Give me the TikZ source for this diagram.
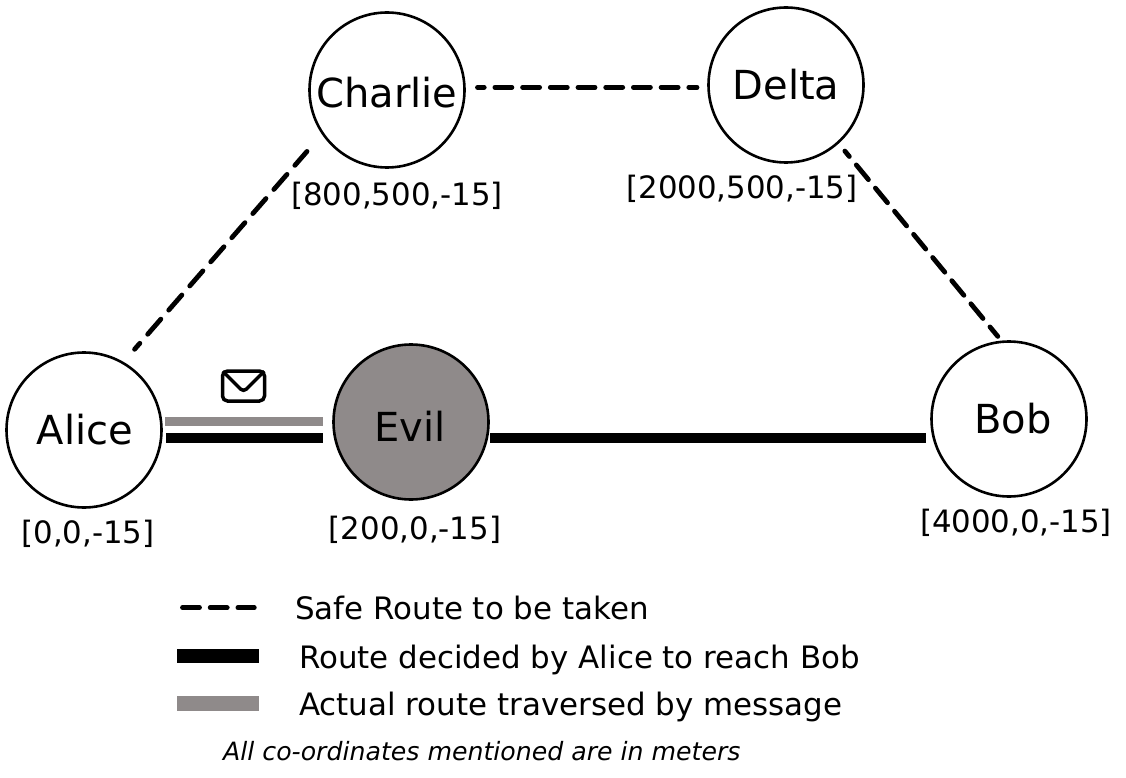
\documentclass[tikz,border=0pt]{standalone}
\usepackage{fontspec}
\usetikzlibrary{calc}
\setmainfont{DejaVu Sans}
\definecolor{evilgray}{HTML}{8F8A8A}
\tikzset{
  station/.style={circle, draw=black, line width=2.6, minimum size=155, inner sep=0, outer sep=0},
  stationname/.style={inner sep=0, font=\fontsize{40}{40}\selectfont},
  coord/.style={inner sep=0, font=\fontsize{30.8}{32}\selectfont},
  legendtext/.style={anchor=west, inner sep=0, font=\fontsize{30.9}{32}\selectfont},
  saferoute/.style={black, line width=4.8, dash pattern=on 17 off 10.700, line cap=round},
  decidedroute/.style={black, line width=10.5},
  actualroute/.style={evilgray, line width=9},
}
\begin{document}
\begin{tikzpicture}[x=1pt, y=-1pt]
\useasboundingbox (0,0) rectangle (1126,778);
% stations
\node[station, label={[stationname, xshift=1]center:Alice}] (alice) at (84,430) {};
\node[station, label={[stationname, yshift=-3]center:Charlie}] (charlie) at (387,90) {};
\node[station, label={[stationname]center:Delta}] (delta) at (786,85) {};
\node[station, fill=evilgray, label={[stationname, xshift=-1, yshift=-4]center:Evil}] (evil) at (411,422) {};
\node[station, label={[stationname, xshift=4]center:Bob}] (bob) at (1009,419) {};
% coordinates
\node[coord] (alicepos) at (88,534) {[0,0,-15]};
\node[coord] (charliepos) at (397,196) {[800,500,-15]};
\node[coord] (deltapos) at (742,189) {[2000,500,-15]};
\node[coord] (evilpos) at (415,530) {[200,0,-15]};
\node[coord] (bobpos) at (1016,523) {[4000,0,-15]};
% routes
\coordinate (saferow) at (0,87.300);
\coordinate (actualrow) at (0,421);
\coordinate (decidedrow) at (0,438);
\draw[saferoute, dash pattern=on 20 off 12, dash phase=12, shorten <=18, shorten >=24] (alice.60.5) -- (charlie.214);
\draw[saferoute, dash phase=10.300, shorten <=13, shorten >=11.500] (charlie.east |- saferow) -- (delta.west |- saferow);
\draw[saferoute, dash pattern=on 19 off 11, dash phase=12, shorten <=11, shorten >=7] (delta.-48.5) -- (bob.95.7);
\draw[actualroute, shorten <=3.500, shorten >=10.500] (alice.east |- actualrow) -- (evil.west |- actualrow);
\draw[decidedroute, shorten <=4.500, shorten >=10.500] (alice.east |- decidedrow) -- (evil.west |- decidedrow);
\draw[decidedroute, shorten <=1.500, shorten >=5.500] (evil.east |- decidedrow) -- (bob.west |- decidedrow);
% message
\node[draw=black, line width=3.5, rounded corners=5, minimum width=42, minimum height=30, inner sep=0] (mail) at (243.500,386) {};
\draw[black, line width=3.5, rounded corners=4] ($(mail.north west)+(2,2)$) -- ($(mail.center)+(0,6)$) -- ($(mail.north east)+(-2,2)$);
% legend
\coordinate (safea) at (182.500,607.700);
\coordinate (safeb) at (254.300,607.700);
\coordinate (decideda) at (177,656);
\coordinate (decidedb) at (259,656);
\coordinate (actuala) at (177,703);
\coordinate (actualb) at (259,703);
\draw[saferoute] (safea) -- (safeb);
\draw[black, line width=14] (decideda) -- (decidedb);
\draw[evilgray, line width=15] (actuala) -- (actualb);
\node[legendtext] (safetext) at (295,608) {Safe Route to be taken};
\node[legendtext] (decidedtext) at (299,659.500) {Route decided by Alice to reach Bob};
\node[legendtext] (actualtext) at (299,707) {Actual route traversed by message};
\node[anchor=west, inner sep=0, font=\fontsize{25.2}{26}\selectfont\itshape] (note) at (223,751) {All co-ordinates mentioned are in meters};
\end{tikzpicture}
\end{document}
